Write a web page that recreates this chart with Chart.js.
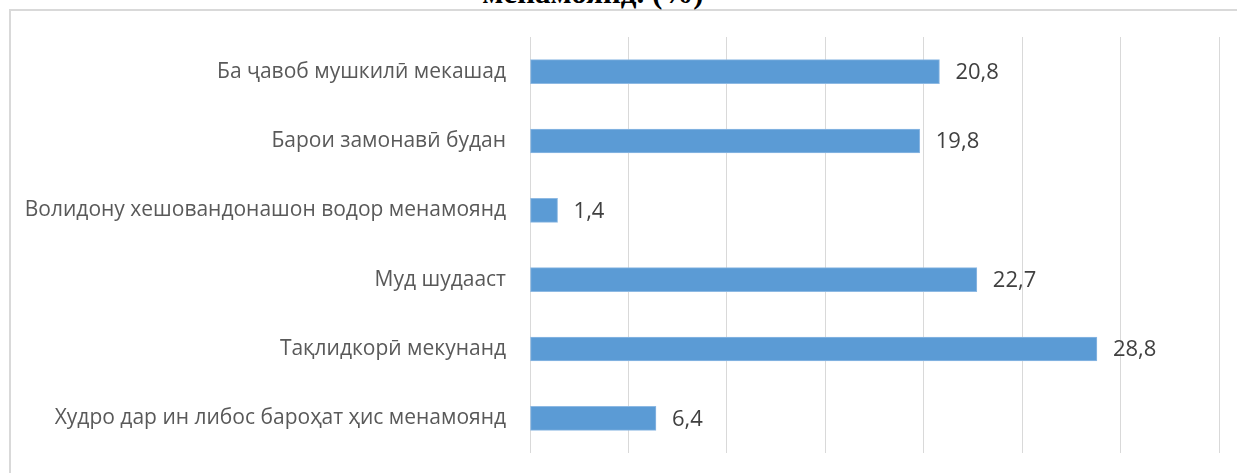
<!DOCTYPE html>
<html>
<head>
<meta charset="utf-8">
<script src="https://cdn.jsdelivr.net/npm/chart.js@4/dist/chart.umd.min.js"></script>
<style>
  html, body { margin: 0; padding: 0; background: #ffffff; }
  #wrap { position: relative; width: 1237px; height: 473px; overflow: hidden; background: #fff; }
  #frame { position: absolute; left: 9px; top: 9px; width: 1240px; height: 480px; border-left: 2px solid #d9d9d9; border-top: 2px solid #d9d9d9; box-sizing: border-box; }
  #title { position: absolute; left: 393px; width: 400px; top: -23px; text-align: center; font-family: "Liberation Serif", "Times New Roman", serif; font-weight: bold; font-size: 31px; line-height: 31px; color: #000; white-space: nowrap; }
  #c { position: absolute; left: 0; top: 0; }
</style>
</head>
<body>
<div id="wrap">
  <div id="frame"></div>
  <div id="title">менамоянд. (%)</div>
  <canvas id="c" width="1237" height="473"></canvas>
</div>
<script>
const categories = [
  "Ба ҷавоб мушкилӣ мекашад",
  "Барои замонавӣ будан",
  "Волидону хешовандонашон водор менамоянд",
  "Муд шудааст",
  "Тақлидкорӣ мекунанд",
  "Худро дар ин либос бароҳат ҳис менамоянд"
];
const values = [20.8, 19.8, 1.4, 22.7, 28.8, 6.4];
const valueLabels = ["20,8", "19,8", "1,4", "22,7", "28,8", "6,4"];
const axisMin = 0;
const axisMax = 35;
const axisStep = 5;

const labelFont = '"Open Sans", "DejaVu Sans", sans-serif';

const valueLabelPlugin = {
  id: 'valueLabels',
  afterDatasetsDraw(chart) {
    const ctx = chart.ctx;
    const meta = chart.getDatasetMeta(0);
    ctx.save();
    ctx.font = '22px ' + labelFont;
    ctx.fillStyle = '#404040';
    ctx.textAlign = 'left';
    ctx.textBaseline = 'middle';
    meta.data.forEach((bar, i) => {
      ctx.fillText(valueLabels[i], bar.x + 16, bar.y + 1);
    });
    ctx.restore();
  }
};

new Chart(document.getElementById('c'), {
  type: 'bar',
  data: {
    labels: categories,
    datasets: [{
      data: values,
      backgroundColor: '#5b9bd5',
      borderColor: '#8db9e3',
      borderWidth: 1,
      borderSkipped: false,
      barThickness: 24
    }]
  },
  options: {
    indexAxis: 'y',
    responsive: false,
    animation: false,
    devicePixelRatio: 1,
    layout: { padding: { top: 37, bottom: 20, right: 18, left: 0 } },
    plugins: { legend: { display: false }, tooltip: { enabled: false } },
    scales: {
      x: {
        min: axisMin, max: axisMax,
        afterFit(scale) { scale.height = 0; },
        ticks: { display: false, stepSize: axisStep },
        grid: { color: '#d9d9d9', lineWidth: 1, drawTicks: false },
        border: { display: false }
      },
      y: {
        afterFit(scale) { scale.width = 530; scale.paddingTop = 0; scale.paddingBottom = 0; },
        grid: { display: false, drawTicks: false },
        border: { display: false },
        ticks: { color: '#595959', font: { family: labelFont, size: 21 }, padding: 24 }
      }
    }
  },
  plugins: [valueLabelPlugin]
});
</script>
</body>
</html>
